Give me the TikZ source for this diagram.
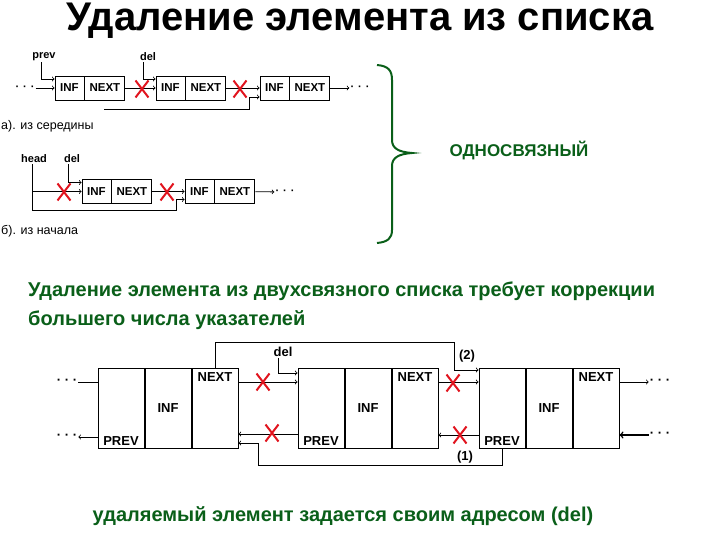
\documentclass[tikz,border=0pt]{standalone}
\usepackage{fontspec}
\setmainfont{Liberation Sans}
\usetikzlibrary{positioning,shapes.misc}
\definecolor{dgreen}{RGB}{10,95,25}
\definecolor{xred}{RGB}{225,20,30}

\begin{document}
\begin{tikzpicture}[x=1pt, y=-1pt,
    cell/.style={rectangle, draw=black, line width=0.9pt, inner sep=0pt,
        minimum height=24pt, font=\fontsize{11.5}{13}\selectfont\bfseries},
    infcell/.style={cell, minimum width=29pt},
    nextcell/.style={cell, minimum width=40pt},
    big/.style={rectangle, draw=black, line width=1pt, inner sep=0pt,
        minimum width=46pt, minimum height=80pt},
    lbl/.style={inner sep=1pt, font=\fontsize{13}{15}\selectfont\bfseries},
    tag/.style={inner sep=1pt, font=\fontsize{11}{12}\selectfont\bfseries},
    caption/.style={inner sep=0pt, anchor=west, font=\fontsize{12.5}{14}\selectfont},
    note/.style={inner sep=0pt, text=dgreen, font=\fontsize{20}{24}\selectfont\bfseries},
    arr/.style={->, line width=0.8pt},
    wire/.style={line width=0.8pt},
    redx/.style={cross out, draw=xred, line width=2pt, inner sep=0pt,
        minimum width=11pt, minimum height=15pt}
]
    \useasboundingbox (0,0) rectangle (720,540);

    % title
    \node[font=\fontsize{40}{46}\selectfont\bfseries] (title) at (360,21)
        {Удаление элемента из списка};

    % a) from the middle
    \node[tag] (aprev) at (44,57) {prev};
    \node[tag] (adel) at (148,57) {del};
    \node[tag] (adl) at (25,88) {·\hspace{4pt}·\hspace{4pt}·};
    \node[infcell] (a1i) at (69.5,88) {INF};
    \node[nextcell, right=0pt of a1i] (a1n) {NEXT};
    \node[infcell] (a2i) at (170.5,88) {INF};
    \node[nextcell, right=0pt of a2i] (a2n) {NEXT};
    \node[infcell] (a3i) at (274.5,88) {INF};
    \node[nextcell, right=0pt of a3i] (a3n) {NEXT};
    \node[tag] (adr) at (360,88) {·\hspace{4pt}·\hspace{4pt}·};
    \coordinate (abyp) at (104,109);
    \draw[arr] (adl) -- (a1i);
    \draw[arr] ([xshift=-3pt]aprev.south) |- ([yshift=9pt]a1i.west);
    \draw[arr] (a1n) -- (a2i);
    \draw[arr] ([xshift=-5pt]adel.south) |- ([yshift=9pt]a2i.west);
    \draw[arr] (a2n) -- (a3i);
    \draw[arr] (abyp) -| ([xshift=-10pt,yshift=-9pt]a3i.west) -- ([yshift=-9pt]a3i.west);
    \draw[arr] (a3n) -- (adr);
    \node[redx] at (142,89) {};
    \node[redx] at (240,89) {};
    \node[caption] (acap) at (1,126) {а). из середины};

    % b) from the head
    \node[tag] (bhead) at (34,159) {head};
    \node[tag] (bdel) at (72,159) {del};
    \node[infcell] (b1i) at (96.5,191.5) {INF};
    \node[nextcell, right=0pt of b1i] (b1n) {NEXT};
    \node[infcell] (b2i) at (199.5,191.5) {INF};
    \node[nextcell, right=0pt of b2i] (b2n) {NEXT};
    \node[tag] (bdr) at (285,192) {·\hspace{4pt}·\hspace{4pt}·};
    \coordinate (bturn) at (176,210);
    \draw[arr] ([xshift=-2pt]bhead.south) |- (b1i.west);
    \draw[arr] ([xshift=-2pt]bhead.south) |- (bturn) |- ([yshift=-8pt]b2i.west);
    \draw[arr] ([xshift=-4pt]bdel.south) |- ([yshift=9pt]b1i.west);
    \draw[arr] (b1n) -- (b2i);
    \draw[arr] (b2n) -- (bdr);
    \node[redx] at (64,192) {};
    \node[redx] at (167,192) {};
    \node[caption] (bcap) at (1,231) {б). из начала};

    % brace
    \draw[dgreen, line width=2pt] (377,65) .. controls (388,66) and (392,70) .. (392,80)
        -- (392,140) .. controls (392,148) and (398,152) .. (412,153)
        .. controls (398,154) and (392,158) .. (392,166)
        -- (392,230) .. controls (392,238) and (388,242) .. (377,243);
    \node[note, font=\fontsize{17}{20}\selectfont\bfseries] (single) at (519,150) {ОДНОСВЯЗНЫЙ};

    % doubly linked
    \node[note, anchor=west] (note1) at (28,291)
        {Удаление элемента из двухсвязного списка требует коррекции};
    \node[note, anchor=west] (note2) at (28,320) {большего числа указателей};

    \node[big] (ap) at (121,408) {};
    \node[big, right=0pt of ap] (ai) {};
    \node[big, right=0pt of ai] (an) {};
    \node[big] (bp) at (321,408) {};
    \node[big, right=0pt of bp] (bi) {};
    \node[big, right=0pt of bi] (bn) {};
    \node[big] (cp) at (502,408) {};
    \node[big, right=0pt of cp] (ci) {};
    \node[big, right=0pt of ci] (cn) {};
    \node[lbl, above=2pt of ap.south] {PREV};
    \node[lbl] at (ai) {INF};
    \node[lbl, below=4pt of an.north] {NEXT};
    \node[lbl, above=2pt of bp.south] {PREV};
    \node[lbl] at (bi) {INF};
    \node[lbl, below=4pt of bn.north] {NEXT};
    \node[lbl, above=2pt of cp.south] {PREV};
    \node[lbl] at (ci) {INF};
    \node[lbl, below=4pt of cn.north] {NEXT};

    \node[lbl] (dl1) at (67,382) {· · ·};
    \node[lbl] (dl2) at (67,437) {· · ·};
    \node[lbl] (dr1) at (660,382) {· · ·};
    \node[lbl] (dr2) at (660,435) {· · ·};
    \node[lbl] (ddel) at (283,352) {del};
    \node[lbl] (two) at (467,356) {(2)};
    \node[lbl] (one) at (465,457) {(1)};
    \coordinate (dtop) at (454,342);
    \coordinate (dbot) at (258,465);

    \draw[wire] (dl1) -- (dl1 -| ap.west);
    \draw[arr] (dl2 -| ap.west) -- (dl2);
    \draw[arr] ([yshift=26pt]an.east) -- ([yshift=26pt]bp.west);
    \draw[arr] ([xshift=-5pt]ddel.south) |- ([yshift=35pt]bp.west);
    \draw[arr] (an.north) |- (dtop) |- ([yshift=38pt]cp.west);
    \draw[arr] ([yshift=26pt]bn.east) -- ([yshift=26pt]cp.west);
    \draw[arr] ([yshift=26pt]cn.east) -- (dr1);
    \draw[arr, line width=1.5pt] (dr2) -- (dr2 -| cn.east);
    \draw[arr] ([yshift=-26pt]bp.west) -- ([yshift=-26pt]an.east);
    \draw[arr] ([yshift=-27pt]cp.west) -- ([yshift=-27pt]bn.east);
    \draw[arr] (cp.south) |- (dbot) |- ([yshift=-35pt]an.east);
    \node[redx] at (263,382) {};
    \node[redx] at (272,433) {};
    \node[redx] at (453,383) {};
    \node[redx] at (460,435) {};

    \node[note] (bottom) at (343,516)
        {удаляемый элемент задается своим адресом (del)};
\end{tikzpicture}
\end{document}
